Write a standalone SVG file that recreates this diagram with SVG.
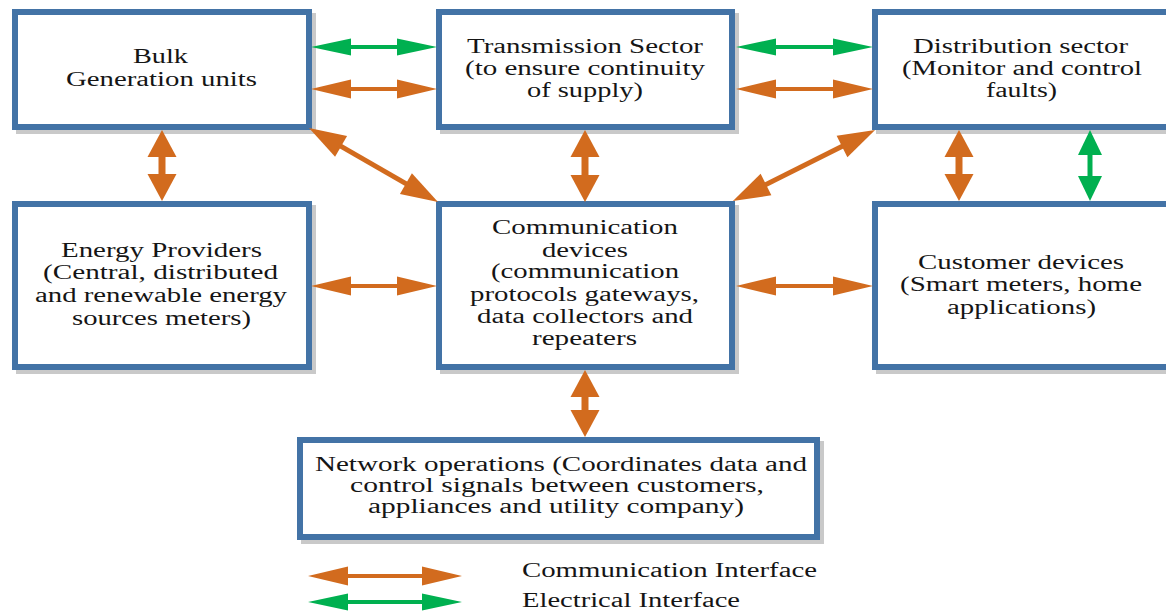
<svg xmlns="http://www.w3.org/2000/svg" width="1166" height="612" viewBox="0 0 1166 612">
<style>
.box{fill:#fff;stroke:#4373a6;stroke-width:6}
.sh{fill:#c9c9c9}
text{font-family:"Liberation Serif","Times New Roman",serif;font-size:20px;fill:#151515}
.o{stroke:#d26b1e;fill:none}
.g{stroke:#00b050;fill:none}
.hz{stroke-width:4}
.vt{stroke-width:7}
.vg{stroke-width:5}
.dg{stroke-width:5}
</style>
<defs>
<marker id="hO" markerUnits="userSpaceOnUse" orient="auto-start-reverse" overflow="visible" refX="25" refY="0" markerWidth="40" markerHeight="20"><path d="M0,-9.5 L40,0 L0,9.5 Z" fill="#d26b1e"/></marker>
<marker id="hG" markerUnits="userSpaceOnUse" orient="auto-start-reverse" overflow="visible" refX="25" refY="0" markerWidth="40" markerHeight="20"><path d="M0,-8.5 L40,0 L0,8.5 Z" fill="#00b050"/></marker>
<marker id="vO" markerUnits="userSpaceOnUse" orient="auto-start-reverse" overflow="visible" refX="15" refY="0" markerWidth="27" markerHeight="30"><path d="M0,-14.5 L27,0 L0,14.5 Z" fill="#d26b1e"/></marker>
<marker id="vG" markerUnits="userSpaceOnUse" orient="auto-start-reverse" overflow="visible" refX="13" refY="0" markerWidth="25" markerHeight="24"><path d="M0,-12 L25,0 L0,12 Z" fill="#00b050"/></marker>
<marker id="dO" markerUnits="userSpaceOnUse" orient="auto-start-reverse" overflow="visible" refX="22" refY="0" markerWidth="37" markerHeight="24"><path d="M0,-12 L37,0 L0,12 Z" fill="#d26b1e"/></marker>
</defs>

<g id="bulk">
<rect class="sh" x="16" y="13" width="300" height="121"/>
<rect class="box" x="15" y="12" width="294" height="115"/>
<text x="133" y="63" textLength="55" lengthAdjust="spacingAndGlyphs">Bulk</text>
<text x="66" y="86" textLength="191" lengthAdjust="spacingAndGlyphs">Generation units</text>
</g>
<g id="transmission">
<rect class="sh" x="440" y="13" width="299" height="121"/>
<rect class="box" x="439" y="12" width="293" height="115"/>
<text x="467" y="53" textLength="236" lengthAdjust="spacingAndGlyphs">Transmission Sector</text>
<text x="465" y="75" textLength="240" lengthAdjust="spacingAndGlyphs">(to ensure continuity</text>
<text x="527" y="97" textLength="116" lengthAdjust="spacingAndGlyphs">of supply)</text>
</g>
<g id="distribution">
<rect class="sh" x="876" y="13" width="306" height="121"/>
<rect class="box" x="875" y="12" width="300" height="115"/>
<text x="913" y="53" textLength="215" lengthAdjust="spacingAndGlyphs">Distribution sector</text>
<text x="902" y="75" textLength="240" lengthAdjust="spacingAndGlyphs">(Monitor and control</text>
<text x="986" y="97" textLength="71" lengthAdjust="spacingAndGlyphs">faults)</text>
</g>
<g id="energy">
<rect class="sh" x="16" y="205" width="300" height="169"/>
<rect class="box" x="15" y="204" width="294" height="163"/>
<text x="61" y="257" textLength="201" lengthAdjust="spacingAndGlyphs">Energy Providers</text>
<text x="43" y="279" textLength="235" lengthAdjust="spacingAndGlyphs">(Central, distributed</text>
<text x="35" y="302" textLength="252" lengthAdjust="spacingAndGlyphs">and renewable energy</text>
<text x="72" y="325" textLength="179" lengthAdjust="spacingAndGlyphs">sources meters)</text>
</g>
<g id="communication">
<rect class="sh" x="440" y="205" width="299" height="169"/>
<rect class="box" x="439" y="204" width="293" height="163"/>
<text x="492" y="234" textLength="186" lengthAdjust="spacingAndGlyphs">Communication</text>
<text x="542" y="257" textLength="86" lengthAdjust="spacingAndGlyphs">devices</text>
<text x="491" y="278" textLength="188" lengthAdjust="spacingAndGlyphs">(communication</text>
<text x="470" y="301" textLength="229" lengthAdjust="spacingAndGlyphs">protocols gateways,</text>
<text x="477" y="323" textLength="216" lengthAdjust="spacingAndGlyphs">data collectors and</text>
<text x="532" y="345" textLength="105" lengthAdjust="spacingAndGlyphs">repeaters</text>
</g>
<g id="customer">
<rect class="sh" x="876" y="205" width="306" height="169"/>
<rect class="box" x="875" y="204" width="300" height="163"/>
<text x="918" y="269" textLength="206" lengthAdjust="spacingAndGlyphs">Customer devices</text>
<text x="900" y="291" textLength="242" lengthAdjust="spacingAndGlyphs">(Smart meters, home</text>
<text x="947" y="314" textLength="149" lengthAdjust="spacingAndGlyphs">applications)</text>
</g>
<g id="network">
<rect class="sh" x="301" y="441" width="523" height="103"/>
<rect class="box" x="300" y="440" width="517" height="97"/>
<text x="315" y="471" textLength="492" lengthAdjust="spacingAndGlyphs">Network operations (Coordinates data and</text>
<text x="350" y="492" textLength="414" lengthAdjust="spacingAndGlyphs">control signals between customers,</text>
<text x="368" y="513" textLength="376" lengthAdjust="spacingAndGlyphs">appliances and utility company)</text>
</g>

<g id="connectors">
<line class="g hz" x1="326" y1="47" x2="422" y2="47" marker-start="url(#hG)" marker-end="url(#hG)"/>
<line class="o hz" x1="326" y1="89" x2="422" y2="89" marker-start="url(#hO)" marker-end="url(#hO)"/>
<line class="g hz" x1="751" y1="47" x2="858" y2="47" marker-start="url(#hG)" marker-end="url(#hG)"/>
<line class="o hz" x1="751" y1="89" x2="858" y2="89" marker-start="url(#hO)" marker-end="url(#hO)"/>
<line class="o hz" x1="326" y1="286" x2="422" y2="286" marker-start="url(#hO)" marker-end="url(#hO)"/>
<line class="o hz" x1="751" y1="286" x2="858" y2="286" marker-start="url(#hO)" marker-end="url(#hO)"/>
<line class="o vt" x1="162" y1="142" x2="162" y2="189" marker-start="url(#vO)" marker-end="url(#vO)"/>
<line class="o vt" x1="585" y1="142" x2="585" y2="190" marker-start="url(#vO)" marker-end="url(#vO)"/>
<line class="o vt" x1="959" y1="142" x2="959" y2="189" marker-start="url(#vO)" marker-end="url(#vO)"/>
<line class="g vg" x1="1090" y1="142" x2="1090" y2="189" marker-start="url(#vG)" marker-end="url(#vG)"/>
<line class="o vt" x1="585" y1="382" x2="585" y2="425" marker-start="url(#vO)" marker-end="url(#vO)"/>
<line class="o dg" x1="322" y1="135.4" x2="425" y2="194.6" marker-start="url(#dO)" marker-end="url(#dO)"/>
<line class="o dg" x1="746.3" y1="194.4" x2="861.7" y2="136.6" marker-start="url(#dO)" marker-end="url(#dO)"/>
</g>

<g id="legend">
<line class="o hz" x1="323" y1="576" x2="447" y2="576" marker-start="url(#hO)" marker-end="url(#hO)"/>
<line class="g hz" x1="323" y1="602" x2="447" y2="602" marker-start="url(#hG)" marker-end="url(#hG)"/>
<text x="522" y="577" textLength="295" lengthAdjust="spacingAndGlyphs">Communication Interface</text>
<text x="522" y="607" textLength="218" lengthAdjust="spacingAndGlyphs">Electrical Interface</text>
</g>
</svg>
